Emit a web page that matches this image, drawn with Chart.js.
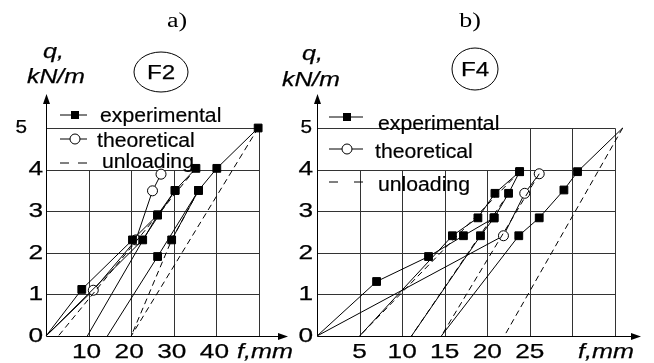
<!DOCTYPE html>
<html>
<head>
<meta charset="utf-8">
<script src="https://cdn.jsdelivr.net/npm/chart.js@4.4.1/dist/chart.umd.min.js"></script>
<style>
  html, body { margin: 0; padding: 0; background: #fff; }
  #wrap { position: relative; width: 654px; height: 363px; }
  canvas { position: absolute; left: 0; top: 0; }
</style>
</head>
<body>
<div id="wrap">
  <canvas id="chartA" width="654" height="363"></canvas>
  <canvas id="chartB" width="654" height="363"></canvas>
</div>
<script>
// ---- data: deflection f (mm), load q (kN/m) ----
var yTicks = [0, 1, 2, 3, 4, 5];

// a) F2
var aXTicks = [10, 20, 30, 40];
var aGridF = [10, 20, 30, 40, 50];
var aExp1 = [[0, 0], [8.4, 1.12], [20.3, 2.31], [26.2, 2.91], [30.3, 3.5], [35.2, 4.03]];
var aExp2 = [[0, 0], [22.7, 2.31], [30.3, 3.5]];
var aExp3 = [[9.7, 0], [26.2, 2.91]];
var aExp4 = [[14.4, 0], [26.2, 1.91], [35.8, 3.5], [40.1, 4.03], [49.8, 5.0]];
var aExp5 = [[29.5, 2.31], [35.8, 3.5]];
var aTheo = [[0, 0], [11.1, 1.1], [21.1, 2.31], [25.0, 3.49], [27.0, 3.89]];
var aUnl1 = [[49.8, 5.0], [20.0, 0]];
var aUnl2 = [[35.2, 4.03], [2.9, 0]];
var aUnl3 = [[35.8, 3.5], [29.5, 2.31], [20.0, 0]];

// b) F4
var bXTicks = [5, 10, 15, 20, 25];
var bGridF = [5, 10, 15, 20, 25, 30, 35];
var bExp1 = [[0, 0], [7.0, 1.31], [13.1, 1.91], [17.2, 2.41], [20.8, 2.84], [22.5, 3.43], [23.8, 3.95]];
var bExp2 = [[5.0, 0], [15.9, 2.41], [18.9, 2.84], [20.9, 3.43], [23.8, 3.95]];
var bExp3 = [[11.1, 0], [19.2, 2.41], [20.8, 2.84]];
var bExp4 = [[14.6, 0], [23.7, 2.41], [26.1, 2.84], [29.0, 3.51], [30.6, 3.95], [35.9, 5.0]];
var bTheo = [[0, 0], [21.9, 2.41], [24.4, 3.43], [26.1, 3.9]];
var bUnl1 = [[35.9, 5.0], [22.0, 0]];
var bUnl2 = [[23.8, 3.95], [5.0, 0]];
var bUnl3 = [[22.5, 3.43], [11.1, 0]];
var bUnl4 = [[26.1, 3.9], [14.6, 0]];

var SANS = '"Liberation Sans", Arial, sans-serif';
var SERIF = '"Liberation Serif", "Times New Roman", serif';

function pts(arr) {
  return arr.map(function (p) { return { x: p[0], y: p[1] }; });
}

function expSet(arr) {
  return {
    data: pts(arr), showLine: true, borderColor: '#000', borderWidth: 1,
    backgroundColor: '#000', pointStyle: 'rect', pointBorderWidth: 1,
    pointRadius: function (c) { return c.raw && c.raw.y === 0 ? 0 : 5.5; },
    clip: false
  };
}
function theoSet(arr) {
  return {
    data: pts(arr), showLine: true, borderColor: '#000', borderWidth: 1,
    backgroundColor: '#fff', pointStyle: 'circle', pointBorderWidth: 1,
    pointRadius: function (c) { return c.raw && c.raw.y === 0 ? 0 : 5; },
    clip: false
  };
}
function unlSet(arr) {
  return {
    data: pts(arr), showLine: true, borderColor: '#000', borderWidth: 1,
    borderDash: [6, 4], pointRadius: 0, clip: false
  };
}

// text with horizontal stretch like the scanned figure
function txt(ctx, s, x, y, font, sx, align, base, heavy) {
  ctx.save();
  ctx.font = font;
  ctx.textAlign = 'left';
  ctx.textBaseline = base || 'alphabetic';
  var w = ctx.measureText(s).width * sx;
  var x0 = x;
  if (align === 'center') x0 = x - w / 2;
  if (align === 'right') x0 = x - w;
  ctx.translate(x0, y);
  ctx.scale(sx, 1);
  ctx.fillStyle = '#000';
  ctx.fillText(s, 0, 0);
  if (heavy) {
    ctx.strokeStyle = '#000';
    ctx.lineWidth = heavy;
    ctx.setLineDash([]);
    ctx.strokeText(s, 0, 0);
  }
  ctx.restore();
}

function line(ctx, x1, y1, x2, y2) {
  ctx.beginPath();
  ctx.moveTo(x1, y1);
  ctx.lineTo(x2, y2);
  ctx.stroke();
}

function deco(o) {
  return {
    id: 'deco' + o.name,
    beforeDatasetsDraw: function (chart) {
      var ctx = chart.ctx;
      var xs = chart.scales.x, ys = chart.scales.y;
      var X = function (v) { return Math.round(xs.getPixelForValue(v)) + 0.5; };
      var Y = function (v) { return Math.round(ys.getPixelForValue(v)) + 0.5; };
      ctx.save();
      // grid
      ctx.strokeStyle = '#333';
      ctx.lineWidth = 1;
      for (var q = 1; q <= 5; q++) line(ctx, X(0), Y(q), X(o.xMax), Y(q));
      o.gridF.forEach(function (f) {
        var top = o.fullF.indexOf(f) >= 0 ? Y(5) : Y(4);
        line(ctx, X(f), Y(0), X(f), top);
      });
      // axes with arrows
      ctx.strokeStyle = '#000';
      ctx.fillStyle = '#000';
      line(ctx, X(0), Y(0), X(0), 98);
      line(ctx, X(0), Y(0), o.arrowX - 4, Y(0));
      ctx.beginPath();
      ctx.moveTo(X(0), 94); ctx.lineTo(X(0) - 3.5, 104); ctx.lineTo(X(0) + 3.5, 104); ctx.closePath(); ctx.fill();
      ctx.beginPath();
      ctx.moveTo(o.arrowX, Y(0)); ctx.lineTo(o.arrowX - 10, Y(0) - 3.5); ctx.lineTo(o.arrowX - 10, Y(0) + 3.5); ctx.closePath(); ctx.fill();

      // tick labels
      yTicks.forEach(function (v) {
        if (v === 5) txt(ctx, '5', o.y5Right, ys.getPixelForValue(5), '18px ' + SANS, 1.15, 'right', 'middle', 0.25);
        else txt(ctx, String(v), o.yRight, ys.getPixelForValue(v), '21px ' + SANS, 1.25, 'right', 'middle', 0.25);
      });
      o.xTicks.forEach(function (v) {
        txt(ctx, String(v), xs.getPixelForValue(v) + o.xShift, 352, '21px ' + SANS, 1.25, 'center', 'middle', 0.25);
      });
      txt(ctx, 'f,mm', o.fmmX, 352, 'italic 21px ' + SANS, 1.2, 'left', 'middle', 0.25);
      txt(ctx, 'q,', o.qX, o.qY, 'italic 21px ' + SANS, 1.2, 'left', null, 0.25);
      txt(ctx, 'kN/m', o.kX, o.kY, 'italic 20px ' + SANS, 1.24, 'left', null, 0.25);
      txt(ctx, o.title, o.titleX, 27, '20px ' + SERIF, 1.3, 'center');

      // specimen mark
      ctx.lineWidth = 1;
      ctx.beginPath();
      ctx.ellipse(o.markX, o.markY, o.markRx, o.markRy, 0, 0, Math.PI * 2);
      ctx.stroke();
      txt(ctx, o.mark, o.markX, o.markY + 1, '21px ' + SANS, 1.15, 'center', 'middle', 0.25);

      // legend
      var L = o.leg;
      ctx.lineWidth = 1;
      line(ctx, L.x1, L.y1, L.x2, L.y1);
      ctx.fillRect(L.m - 4, L.y1 - 4, 8, 8);
      txt(ctx, 'experimental', L.t1, L.b1, '20px ' + SANS, 1.06, 'left', null, 0.2);
      line(ctx, L.x1, L.y2, L.x2, L.y2);
      ctx.beginPath();
      ctx.arc(L.m, L.y2, 5, 0, Math.PI * 2);
      ctx.fillStyle = '#fff'; ctx.fill(); ctx.stroke();
      ctx.fillStyle = '#000';
      txt(ctx, 'theoretical', L.t2, L.b2, '20px ' + SANS, 1.06, 'left', null, 0.2);
      line(ctx, L.x1, L.y3, L.x1 + 9, L.y3);
      line(ctx, L.x2 - 9, L.y3, L.x2, L.y3);
      txt(ctx, 'unloading', L.t3, L.b3, '20px ' + SANS, 1.06, 'left', null, 0.2);
      ctx.restore();
    }
  };
}

function makeChart(id, xMax, pad, sets, opts) {
  return new Chart(document.getElementById(id), {
    type: 'scatter',
    data: { datasets: sets },
    options: {
      responsive: false,
      animation: false,
      layout: { padding: pad },
      plugins: { legend: { display: false }, tooltip: { enabled: false } },
      scales: {
        x: { type: 'linear', min: 0, max: xMax, display: false },
        y: { type: 'linear', min: 0, max: 5, display: false }
      }
    },
    plugins: [deco(opts)]
  });
}

makeChart('chartA', 50, { left: 46, right: 395, top: 128, bottom: 27 }, [
  unlSet(aUnl1), unlSet(aUnl2), unlSet(aUnl3),
  expSet(aExp1), expSet(aExp2), expSet(aExp3), expSet(aExp4), expSet(aExp5),
  theoSet(aTheo)
], {
  name: 'A', xMax: 50, gridF: aGridF, fullF: [50], xTicks: aXTicks, xShift: -2,
  arrowX: 288, yRight: 43, y5Right: 27, fmmX: 237, qX: 43, qY: 58, kX: 27, kY: 83,
  title: 'a)', titleX: 177, mark: 'F2', markX: 161, markY: 72, markRx: 27, markRy: 20,
  leg: { x1: 60, x2: 87, m: 75, y1: 115, y2: 139, y3: 163,
         t1: 100, b1: 122, t2: 97, b2: 147, t3: 102, b3: 168 }
});

makeChart('chartB', 35, { left: 317, right: 39, top: 128, bottom: 27 }, [
  unlSet(bUnl1), unlSet(bUnl2), unlSet(bUnl3), unlSet(bUnl4),
  expSet(bExp1), expSet(bExp2), expSet(bExp3), expSet(bExp4),
  theoSet(bTheo)
], {
  name: 'B', xMax: 35, gridF: bGridF, fullF: [25, 30, 35], xTicks: bXTicks, xShift: 0,
  arrowX: 641, yRight: 313, y5Right: 312, fmmX: 578, qX: 302, qY: 60, kX: 282, kY: 86,
  title: 'b)', titleX: 470, mark: 'F4', markX: 475, markY: 69, markRx: 23, markRy: 21,
  leg: { x1: 329, x2: 363, m: 347, y1: 117, y2: 149, y3: 182,
         t1: 378, b1: 130, t2: 375, b2: 158, t3: 378, b3: 191 }
});
</script>
</body>
</html>
